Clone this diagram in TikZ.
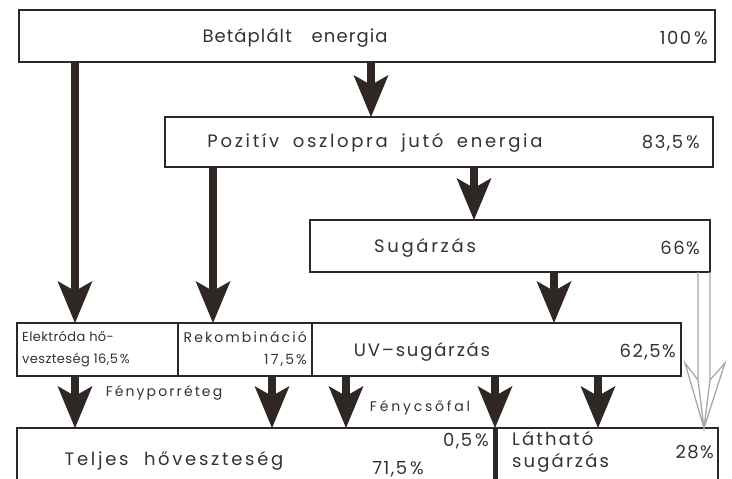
\documentclass[tikz,border=0pt]{standalone}
\usepackage{fontspec}
\setmainfont{Poppins}
\usetikzlibrary{arrows.meta,calc}
\definecolor{ink}{HTML}{2E2724}
\definecolor{txt}{HTML}{333333}
\definecolor{gline}{HTML}{A8A8A8}
\begin{document}
\begin{tikzpicture}[x=1pt,y=-1pt,
  box/.style={draw=ink, line width=1.6pt, fill=white, anchor=north west, inner sep=0pt, outer sep=0pt},
  arr/.style={draw=ink, line width=8pt, -{Stealth[length=42pt, width=35pt, inset=10pt, line width=0pt]}},
  big/.style={font=\fontsize{18}{22}\selectfont\addfontfeatures{LetterSpace=15}, text=txt, inner sep=0pt},
  pct/.style={font=\fontsize{18}{22}\selectfont\addfontfeatures{LetterSpace=8}, text=txt, inner sep=0pt},
  small/.style={font=\fontsize{14}{22}\selectfont\addfontfeatures{LetterSpace=15}, text=txt, inner sep=0pt}]
\useasboundingbox (0,0) rectangle (732,479);
\clip (0,0) rectangle (732,479);
% boxes
\node[box, minimum width=696pt, minimum height=52pt] (b1) at (19,10) {};
\node[box, minimum width=548pt, minimum height=50pt] (b2) at (165,117) {};
\node[box, minimum width=400pt, minimum height=52pt] (b3) at (310,220) {};
\node[box, minimum width=161pt, minimum height=53pt] (elek) at (17,323) {};
\node[box, minimum width=134pt, minimum height=53pt] (rek) at (178,323) {};
\node[box, minimum width=369pt, minimum height=53pt] (uv) at (312,323) {};
\node[box, minimum width=478pt, minimum height=80pt] (heat) at (17,428) {};
\node[box, minimum width=223pt, minimum height=80pt] (vis) at (495,428) {};
% texts
\node[big, font=\fontsize{18}{22}\selectfont\addfontfeatures{LetterSpace=6}] (t1) at (295,38) {Betáplált\hspace{14pt} energia};
\node[pct, anchor=east] (p1) at (708,38) {100\hspace{3pt}\%};
\node[big] (t2) at (375,143) {Pozitív\hspace{6pt} oszlopra\hspace{6pt} jutó\hspace{6pt} energia};
\node[pct, anchor=east] (p2) at (700,143) {83,5\hspace{3pt}\%};
\node[big] (t3) at (425,248) {Sugárzás};
\node[pct, anchor=east] (p3) at (700,248) {66\%};
\node[small, font=\fontsize{13}{22}\selectfont\addfontfeatures{LetterSpace=3}, anchor=west, align=left] (t4) at (22,349) {Elektróda hő-\\veszteség 16,5\hspace{2pt}\%};
\node[small, anchor=east, align=right] (t5) at (307,349) {Rekombináció\\17,5\hspace{2pt}\%};
\node[big, font=\fontsize{18}{22}\selectfont\addfontfeatures{LetterSpace=10}] (t6) at (422,352) {UV–sugárzás};
\node[pct, anchor=east] (p6) at (676,352) {62,5\%};
\node[big] (t7) at (174,461) {Teljes\hspace{8pt} hőveszteség};
\node[pct, anchor=east] (p7a) at (489,441) {0,5\hspace{3pt}\%};
\node[pct] (p7b) at (398,469) {71,5\hspace{3pt}\%};
\node[big, anchor=west, align=left, font=\fontsize{18}{22}\selectfont\addfontfeatures{LetterSpace=12}] (t8) at (512,452) {Látható\\sugárzás};
\node[pct, anchor=east] (p8) at (714,452) {28\%};
\node[small] (l1) at (164,393) {Fényporréteg};
\node[small, font=\fontsize{14}{22}\selectfont\addfontfeatures{LetterSpace=20}] (l2) at (420,408) {Fénycsőfal};
% arrows
\draw[arr] (75,0 |- b1.south) -- (75,0 |- elek.north);
\draw[arr] (371,0 |- b1.south) -- (371,0 |- b2.north);
\draw[arr] (213,0 |- b2.south) -- (213,0 |- rek.north);
\draw[arr] (474,0 |- b2.south) -- (474,0 |- b3.north);
\draw[arr] (554,0 |- b3.south) -- (554,0 |- uv.north);
\draw[arr] (75,0 |- elek.south) -- (75,0 |- heat.north);
\draw[arr] (272,0 |- rek.south) -- (272,0 |- heat.north);
\draw[arr] (346,0 |- uv.south) -- (346,0 |- heat.north);
\draw[arr] (495,0 |- uv.south) -- (heat.north east);
\draw[arr] (598,0 |- uv.south) -- (598,0 |- vis.north);
\draw[ink, line width=5pt] (heat.north east) -- (heat.south east);
% gray hollow arrow
\coordinate (gs) at (704,0 |- b3.south);
\coordinate (gt) at (704,0 |- vis.north);
\draw[gline, line width=1.3pt, line join=miter]
  ($(gs)+(-6,0)$) -- ($(gt)+(-6,-48)$) -- (gt) -- ($(gt)+(6,-48)$) -- ($(gs)+(6,0)$)
  ($(gt)+(-6,-48)$) -- ($(gt)+(-19,-65)$) -- (gt) -- ($(gt)+(21,-65)$) -- ($(gt)+(6,-48)$);
\end{tikzpicture}
\end{document}
